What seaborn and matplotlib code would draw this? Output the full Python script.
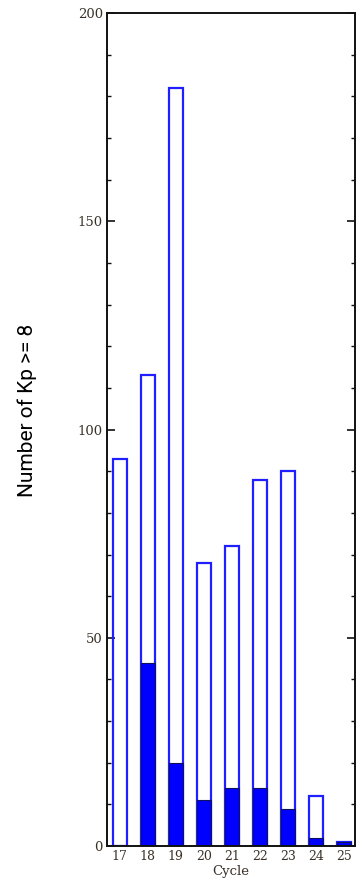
import matplotlib
matplotlib.use("Agg")
import matplotlib.pyplot as plt
from matplotlib.ticker import MultipleLocator
import seaborn as sns
import pandas as pd

cycles = ["17", "18", "19", "20", "21", "22", "23", "24", "25"]
total_counts = [93, 113, 182, 68, 72, 88, 90, 12, 1]
filled_counts = [0, 44, 20, 11, 14, 14, 9, 2, 1]

df = pd.DataFrame({"cycle": cycles, "total": total_counts, "filled": filled_counts})

sns.set_style("white")
plt.rcParams["font.family"] = ["DejaVu Sans"]

fig = plt.figure(figsize=(3.57, 8.8), dpi=100)
ax = fig.add_axes([0.2997, 0.0386, 0.6947, 0.9464])

sns.barplot(data=df, x="cycle", y="total", order=cycles, width=0.5, fill=False,
            edgecolor="#1f1fff", linewidth=1.6, errorbar=None, ax=ax)
sns.barplot(data=df, x="cycle", y="filled", order=cycles, width=0.5,
            color="#0000ff", saturation=1, edgecolor="#101060", linewidth=0.8,
            errorbar=None, ax=ax)

ax.set_ylim(0, 200)
ax.set_xlim(-0.46, 8.4)
ax.yaxis.set_major_locator(MultipleLocator(50))
ax.yaxis.set_minor_locator(MultipleLocator(10))
tick_color = "#3a3028"
ax.tick_params(axis="y", which="major", direction="in", length=6, width=1.2,
               left=True, right=True, labelsize=9.5, colors="#111111",
               labelcolor=tick_color, pad=3)
ax.tick_params(axis="y", which="minor", direction="in", length=3, width=1.0,
               left=True, right=True, colors="#111111")
ax.tick_params(axis="x", which="both", length=0, labelsize=9,
               labelcolor=tick_color, pad=3)
for lab in ax.get_xticklabels() + ax.get_yticklabels():
    lab.set_fontfamily(["DejaVu Serif"])

for s in ax.spines.values():
    s.set_visible(True)
    s.set_color("#111111")
    s.set_linewidth(1.4)

ax.set_xlabel("Cycle", fontsize=9.5, family=["DejaVu Serif"],
              color=tick_color)
ax.xaxis.set_label_coords(0.5, -0.0225)
ax.set_ylabel("Number of Kp >= 8", fontsize=15,
              family=["Roboto", "DejaVu Sans"],
              color="#000000")
ax.yaxis.set_label_coords(-0.282, 0.523)

fig.savefig("out.png", dpi=100)
